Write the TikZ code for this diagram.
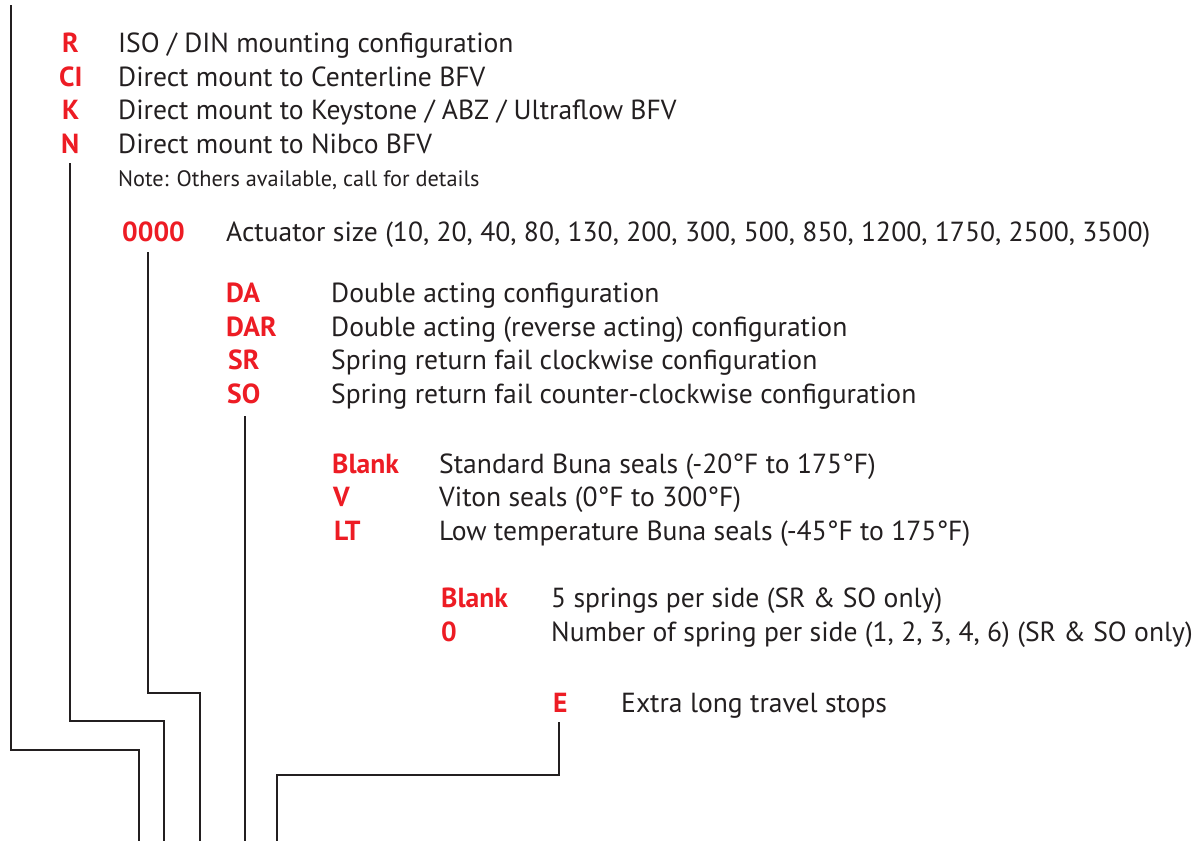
\documentclass[tikz,border=0pt]{standalone}
\usepackage{fontspec}
\setmainfont{PT Sans}
\definecolor{cred}{HTML}{ED1C24}
\definecolor{cdark}{HTML}{231F20}
\tikzset{
  lab/.style={anchor=base west, inner sep=0pt, text=cred, font=\fontsize{27.6}{33}\selectfont\bfseries},
  desc/.style={anchor=base west, inner sep=0pt, text=cdark, font=\fontsize{27.6}{33}\selectfont},
  note/.style={anchor=base west, inner sep=0pt, text=cdark, font=\fontsize{22.3}{26}\selectfont},
  wire/.style={draw=cdark, line width=2pt}
}
\begin{document}
\begin{tikzpicture}[x=1pt,y=-1pt]
\useasboundingbox (0,0) rectangle (1201,841);
% group 1
\node[lab] (lR) at (62,52) {R};
\node[desc] (dR) at (118,52) {ISO / DIN mounting configuration};
\node[lab] (lCI) at (59,86) {CI};
\node[desc] (dCI) at (118,86) {Direct mount to Centerline BFV};
\node[lab] (lK) at (62,119) {K};
\node[desc] (dK) at (118,119) {Direct mount to Keystone / ABZ / Ultraflow BFV};
\node[lab] (lN) at (61,153) {N};
\node[desc] (dN) at (118,153) {Direct mount to Nibco BFV};
\node[note] (nt) at (118,186) {Note: Others available, call for details};
% group 2
\node[lab] (l0) at (122,241) {0000};
\node[desc] (d0) at (226,241) {Actuator size (10, 20, 40, 80, 130, 200, 300, 500, 850, 1200, 1750, 2500, 3500)};
% group 3
\node[lab] (lDA) at (226,302) {DA};
\node[desc] (dDA) at (331,302) {Double acting configuration};
\node[lab] (lDAR) at (226,336) {DAR};
\node[desc] (dDAR) at (331,336) {Double acting (reverse acting) configuration};
\node[lab] (lSR) at (228,369) {SR};
\node[desc] (dSR) at (331,369) {Spring return fail clockwise configuration};
\node[lab] (lSO) at (227,403) {SO};
\node[desc] (dSO) at (331,403) {Spring return fail counter-clockwise configuration};
% group 4
\node[lab] (lB1) at (332,473) {Blank};
\node[desc] (dB1) at (439,473) {Standard Buna seals (-20°F to 175°F)};
\node[lab] (lV) at (333,506) {V};
\node[desc] (dV) at (439,506) {Viton seals (0°F to 300°F)};
\node[lab] (lLT) at (334,540) {LT};
\node[desc] (dLT) at (439,540) {Low temperature Buna seals (-45°F to 175°F)};
% group 5
\node[lab] (lB2) at (441,607) {Blank};
\node[desc] (dB2) at (551,607) {5 springs per side (SR \& SO only)};
\node[lab] (lZ) at (441,641) {0};
\node[desc] (dZ) at (551,641) {Number of spring per side (1, 2, 3, 4, 6) (SR \& SO only)};
% group 6
\node[lab] (lE) at (553,712) {E};
\node[desc] (dE) at (621,712) {Extra long travel stops};
% connectors
\coordinate (topA) at (11,5);
\coordinate (botA) at (139,841);
\coordinate (botB) at (164,841);
\coordinate (botC) at (200,841);
\coordinate (botD) at (245,841);
\coordinate (botE) at (277,841);
\draw[wire] (topA) |- (139,750) -- (botA);
\draw[wire] (70,163) |- (164,721) -- (botB);
\draw[wire] (148,252) |- (200,693) -- (botC);
\draw[wire] (245,416) -- (botD);
\draw[wire] (559,722) |- (277,775) -- (botE);
\end{tikzpicture}
\end{document}
